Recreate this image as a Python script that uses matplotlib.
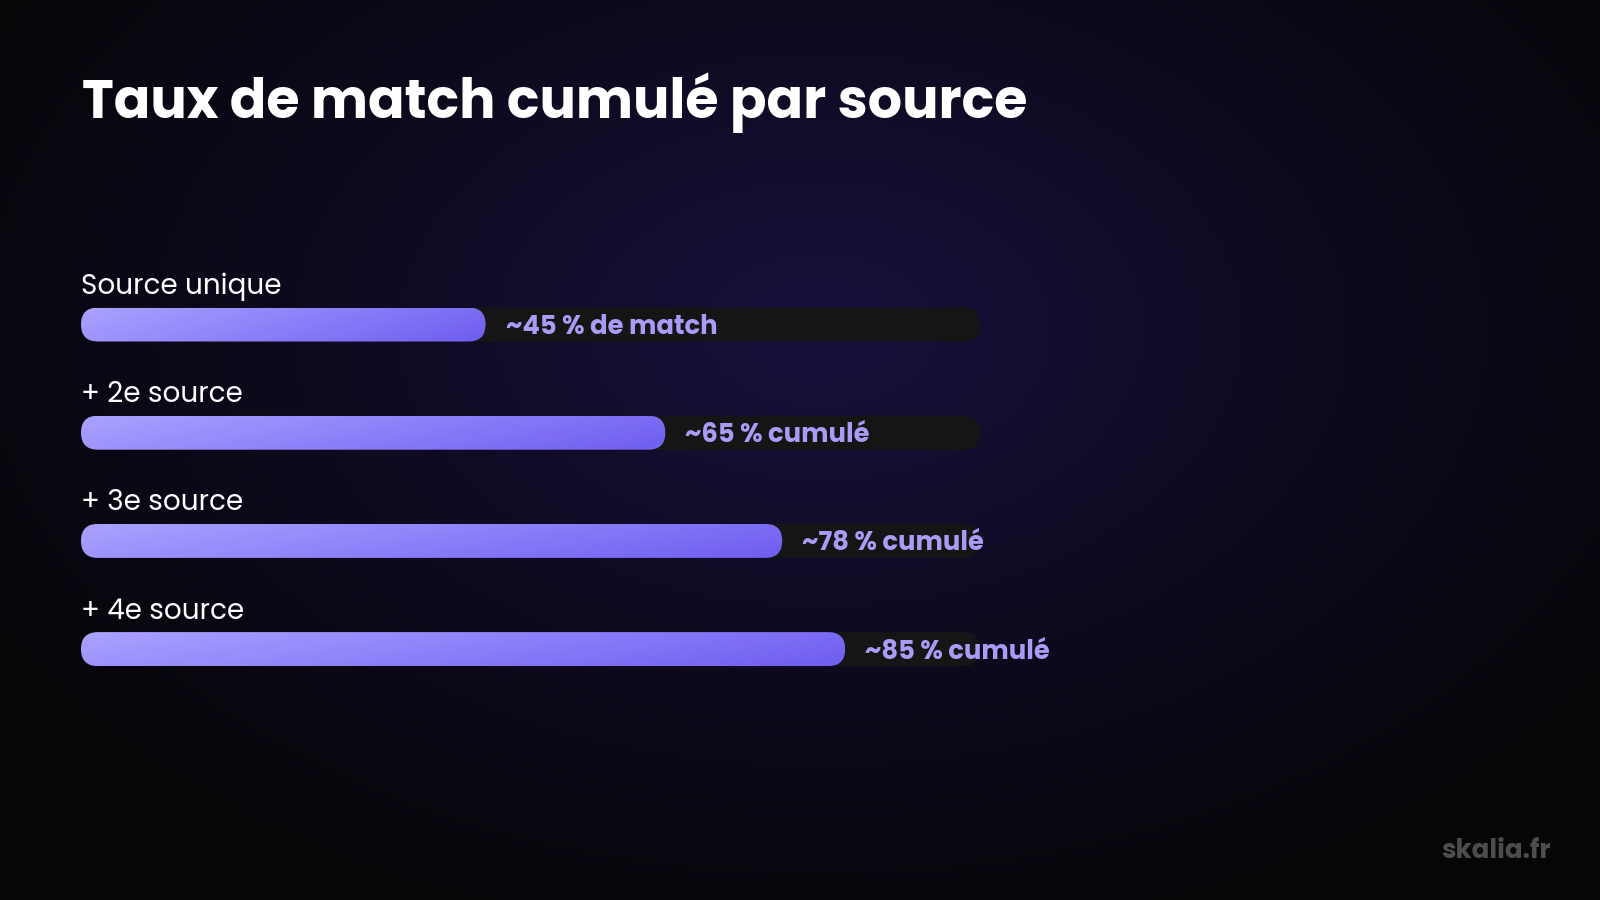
import numpy as np
import matplotlib
matplotlib.use("Agg")
import matplotlib.pyplot as plt
from matplotlib.patches import FancyBboxPatch
from matplotlib.colors import LinearSegmentedColormap

# ---- data ----
categories = ["Source unique", "+ 2e source", "+ 3e source", "+ 4e source"]
values = [45, 65, 78, 85]
value_labels = ["~45 % de match", "~65 % cumulé", "~78 % cumulé", "~85 % cumulé"]
title = "Taux de match cumulé par source"
watermark = "skalia.fr"

FONT = ["Poppins", "Open Sans", "DejaVu Sans"]
plt.rcParams["font.family"] = FONT

W, H = 1600, 900
fig = plt.figure(figsize=(16, 9), dpi=100)

# ---- background radial gradient ----
bg = fig.add_axes([0, 0, 1, 1])
bg.set_axis_off()
yy, xx = np.mgrid[0:H, 0:W]
d = np.sqrt(((xx - 820) / 950.0) ** 2 + ((yy - 330) / 620.0) ** 2)
t = np.clip(d, 0, 1) ** 0.85
c0 = np.array([0x19, 0x10, 0x3e]) / 255.0
c1 = np.array([0x06, 0x06, 0x09]) / 255.0
img = c0[None, None, :] * (1 - t[..., None]) + c1[None, None, :] * t[..., None]
bg.imshow(img, extent=[0, W, H, 0], aspect="auto", zorder=0)
bg.set_xlim(0, W)
bg.set_ylim(H, 0)

# ---- bars axes ----
x0_px, x1_px = 81, 980
slot = 108.2
top_px = 324.5 - slot / 2
bot_px = top_px + slot * len(categories)
ax = fig.add_axes([x0_px / W, 1 - bot_px / H, (x1_px - x0_px) / W, (bot_px - top_px) / H])
ax.set_xlim(0, 100)
ax.set_ylim(len(categories) - 0.5, -0.5)
ax.set_axis_off()
ax.patch.set_alpha(0)

px_per_x = (x1_px - x0_px) / 100.0
px_per_y = slot
bar_h_px = 34
bar_h = bar_h_px / px_per_y
r = (bar_h_px / 2) / px_per_x
aspect = px_per_x / px_per_y

cmap = LinearSegmentedColormap.from_list("bar", ["#aaa2ff", "#8c80f9", "#6f5ef0"])

for i, (cat, v, lab) in enumerate(zip(categories, values, value_labels)):
    track = FancyBboxPatch((0, i - bar_h / 2), 100, bar_h,
                           boxstyle=f"round,pad=0,rounding_size={r}",
                           mutation_aspect=aspect, facecolor="#151515",
                           edgecolor="none", zorder=1)
    ax.add_patch(track)
    bar = FancyBboxPatch((0, i - bar_h / 2), v, bar_h,
                         boxstyle=f"round,pad=0,rounding_size={r}",
                         mutation_aspect=aspect, facecolor="none",
                         edgecolor="none", zorder=2)
    ax.add_patch(bar)
    gx = np.linspace(0, 1, 256)
    gy = np.linspace(0, 1, 16)
    G = 0.8 * gx[None, :] + 0.2 * gy[:, None]
    im = ax.imshow(G, cmap=cmap, extent=[0, v, i + bar_h / 2, i - bar_h / 2],
                   aspect="auto", zorder=2, interpolation="bilinear")
    im.set_clip_path(bar)
    ax.text(0, i - 37.5 / px_per_y, cat, color="white", fontsize=20,
            va="center", ha="left", zorder=3)
    ax.annotate(lab, xy=(v, i), xytext=(20, -3), textcoords="offset pixels",
                color="#a89cf7", fontsize=18.6, fontweight="bold",
                va="center", ha="left", zorder=3, annotation_clip=False)

ax.set_xlim(0, 100)
ax.set_ylim(len(categories) - 0.5, -0.5)

fig.text(82 / W, 1 - 103 / H, title, color="white", fontsize=38.8,
         fontweight="bold", va="center", ha="left")
fig.text(1551 / W, 1 - 852 / H, watermark, color="#4d4d4f", fontsize=18.8,
         fontweight="bold", va="center", ha="right")

fig.savefig("out.png", dpi=100)
